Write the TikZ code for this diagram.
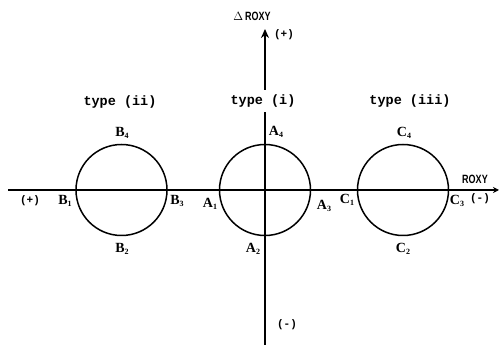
\documentclass[tikz,border=0pt]{standalone}
\usepackage{fontspec}
\setmainfont{Liberation Serif}
\setmonofont{Liberation Mono}
\setsansfont{Liberation Sans}
\usetikzlibrary{arrows.meta}
\newcommand{\pt}[2]{\textbf{#1}\raisebox{-2.5pt}{\fontsize{8}{8}\selectfont\textbf{#2}}}
\tikzset{
  axis/.style={line width=1.7pt},
  ring/.style={circle, draw, line width=1.5pt, minimum size=91pt, inner sep=0pt},
  typelab/.style={font=\fontsize{13.5}{14}\selectfont\ttfamily\bfseries, inner sep=1pt},
  ptlab/.style={font=\fontsize{14}{14}\selectfont, inner sep=0pt},
  signlab/.style={font=\fontsize{11}{11}\selectfont\ttfamily\bfseries, inner sep=0pt},
  axlab/.style={font=\fontsize{12}{12}\selectfont\sffamily\bfseries, inner sep=0pt}
}
\begin{document}
\begin{tikzpicture}[x=1pt,y=-1pt]
\useasboundingbox (0,0) rectangle (499,347);
% axes
\coordinate (hl) at (8,190);
\coordinate (hr) at (499,190);
\coordinate (vt) at (265,29);
\coordinate (vb) at (265,345);
\draw[axis,-{Stealth[length=6pt,width=6pt]}] (hl) -- (hr);
\draw[axis,-{Stealth[length=9pt,width=8pt]}] (vb) -- (vt);
% circles
\node[ring] (cB) at (121.5,190) {};
\node[ring] (cA) at (265,190) {};
\node[ring] (cC) at (403,190) {};
% type labels
\node[typelab] (tii) at (120,102) {type (ii)};
\node[typelab, fill=white, inner ysep=5pt] (ti) at (263,101) {type (i)};
\node[typelab] (tiii) at (410,101) {type (iii)};
% axis labels
\node[axlab] (dr) at (252,16) {$\Delta$\,\scalebox{0.75}[1]{ROXY}};
\node[axlab] (rx) at (475,179) {\scalebox{0.75}[1]{ROXY}};
\node[signlab] (pt1) at (284,35) {(+)};
\node[signlab] (pl) at (30,201) {(+)};
\node[signlab] (mr) at (480,199) {(-)};
\node[signlab] (mb) at (287,325) {(-)};
% point labels
\node[ptlab] (B4) at (122,133) {\pt{B}{4}};
\node[ptlab] (B1) at (65,201) {\pt{B}{1}};
\node[ptlab] (B3) at (177,201) {\pt{B}{3}};
\node[ptlab] (B2) at (122,249) {\pt{B}{2}};
\node[ptlab] (A4) at (276,132) {\pt{A}{4}};
\node[ptlab] (A1) at (210,204) {\pt{A}{1}};
\node[ptlab] (A3) at (324,206) {\pt{A}{3}};
\node[ptlab] (A2) at (253,249) {\pt{A}{2}};
\node[ptlab] (C4) at (404,133) {\pt{C}{4}};
\node[ptlab] (C1) at (347,200) {\pt{C}{1}};
\node[ptlab] (C3) at (457,201) {\pt{C}{3}};
\node[ptlab] (C2) at (403,249) {\pt{C}{2}};
\end{tikzpicture}
\end{document}
